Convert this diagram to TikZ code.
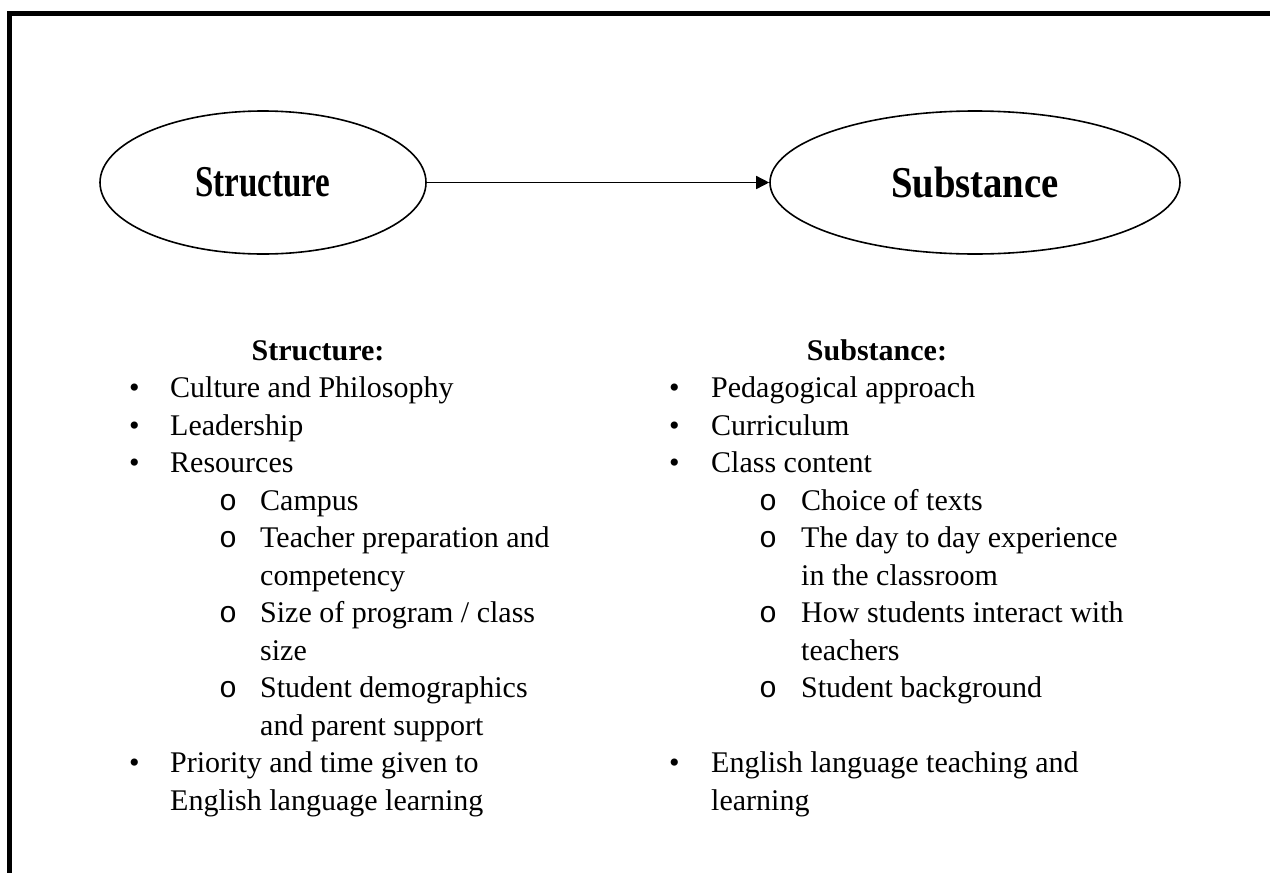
\documentclass[tikz,border=0pt]{standalone}
\usepackage{fontspec}
\setmainfont{Liberation Serif}
\newfontfamily\monof{Liberation Mono}
\usetikzlibrary{arrows.meta,shapes.geometric}
\begin{document}
\begin{tikzpicture}[x=1pt,y=-1pt,
  oval/.style={draw,ellipse,line width=1.6pt,inner sep=0pt},
  big/.style={font=\fontsize{44}{48}\selectfont\bfseries},
  txt/.style={anchor=base west,inner sep=0pt,font=\fontsize{30}{36}\selectfont},
  head/.style={anchor=base,inner sep=0pt,font=\fontsize{30}{36}\selectfont\bfseries},
  subb/.style={anchor=base west,inner sep=0pt,font=\fontsize{30}{36}\monof},
  link/.style={line width=1.5pt,-{Triangle[length=13pt,width=13pt]}}]
\useasboundingbox (0,0) rectangle (1270,873);
% frame (top and left only)
\draw[line width=5pt] (9.5,873) -- (9.5,13.5) -- (1270,13.5);
% ovals
\node[oval,big,minimum width=326,minimum height=143] (st) at (263,182.5) {\scalebox{0.75}[1]{Structure}};
\node[oval,big,minimum width=410,minimum height=143] (su) at (975,182.5) {\scalebox{0.88}[1]{Substance}};
\draw[link] (st) -- (su);
% left list
\node[head] (hl) at (318,360) {Structure:};
\node[txt] (lb1) at (129,397.5) {•};
\node[txt] (l1) at (170,397.5) {Culture and Philosophy};
\node[txt] (lb2) at (129,435) {•};
\node[txt] (l2) at (170,435) {Leadership};
\node[txt] (lb3) at (129,472.5) {•};
\node[txt] (l3) at (170,472.5) {Resources};
\node[subb] (lo1) at (219,510) {o};
\node[txt] (l4) at (260,510) {Campus};
\node[subb] (lo2) at (219,547.5) {o};
\node[txt] (l5) at (260,547.5) {Teacher preparation and};
\node[txt] (l5b) at (260,585) {competency};
\node[subb] (lo3) at (219,622.5) {o};
\node[txt] (l6) at (260,622.5) {Size of program / class};
\node[txt] (l6b) at (260,660) {size};
\node[subb] (lo4) at (219,697.5) {o};
\node[txt] (l7) at (260,697.5) {Student demographics};
\node[txt] (l7b) at (260,735) {and parent support};
\node[txt] (lb4) at (129,772.5) {•};
\node[txt] (l8) at (170,772.5) {Priority and time given to};
\node[txt] (l8b) at (170,810) {English language learning};
% right list
\node[head] (hr) at (877,360) {Substance:};
\node[txt] (rb1) at (669,397.5) {•};
\node[txt] (r1) at (711,397.5) {Pedagogical approach};
\node[txt] (rb2) at (669,435) {•};
\node[txt] (r2) at (711,435) {Curriculum};
\node[txt] (rb3) at (669,472.5) {•};
\node[txt] (r3) at (711,472.5) {Class content};
\node[subb] (ro1) at (759,510) {o};
\node[txt] (r4) at (801,510) {Choice of texts};
\node[subb] (ro2) at (759,547.5) {o};
\node[txt] (r5) at (801,547.5) {The day to day experience};
\node[txt] (r5b) at (801,585) {in the classroom};
\node[subb] (ro3) at (759,622.5) {o};
\node[txt] (r6) at (801,622.5) {How students interact with};
\node[txt] (r6b) at (801,660) {teachers};
\node[subb] (ro4) at (759,697.5) {o};
\node[txt] (r7) at (801,697.5) {Student background};
\node[txt] (rb4) at (669,772.5) {•};
\node[txt] (r8) at (711,772.5) {English language teaching and};
\node[txt] (r8b) at (711,810) {learning};
\end{tikzpicture}
\end{document}
